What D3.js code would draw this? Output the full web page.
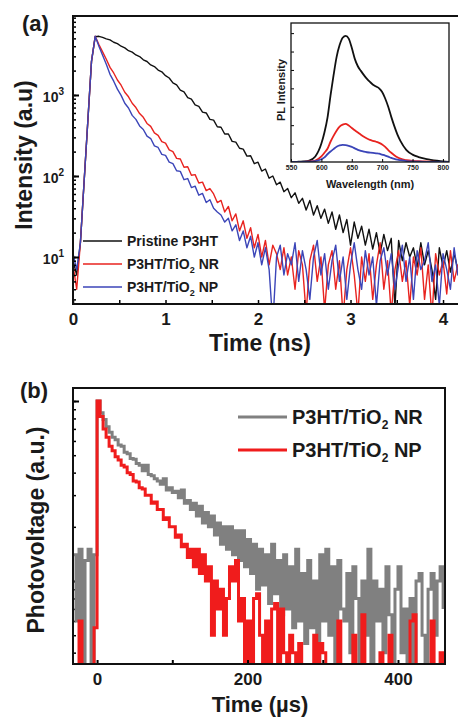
<!DOCTYPE html>
<html>
<head>
<meta charset="utf-8">
<script src="https://cdn.jsdelivr.net/npm/d3@7"></script>
<style>
body { margin: 0; background: #fff; }
text { font-family: "Liberation Sans", Arial, sans-serif; font-weight: bold; fill: #1a1a1a; }
</style>
</head>
<body>
<div id="chart"></div>
<script>
// ---- panel (a): PL decay, time in ns, counts on log axis
const timeA = [
  0,0.04,0.08,0.12,0.16,0.2,0.24,0.28,0.32,0.36,
  0.4,0.44,0.48,0.52,0.56,0.6,0.64,0.68,0.72,0.76,
  0.8,0.84,0.88,0.92,0.96,1.0,1.04,1.08,1.12,1.16,
  1.2,1.24,1.28,1.32,1.36,1.4,1.44,1.48,1.52,1.56,
  1.6,1.64,1.68,1.72,1.76,1.8,1.84,1.88,1.92,1.96,
  2.0,2.04,2.08,2.12,2.16,2.2,2.24,2.28,2.32,2.36,
  2.4,2.44,2.48,2.52,2.56,2.6,2.64,2.68,2.72,2.76,
  2.8,2.84,2.88,2.92,2.96,3.0,3.04,3.08,3.12,3.16,
  3.2,3.24,3.28,3.32,3.36,3.4,3.44,3.48,3.52,3.56,
  3.6,3.64,3.68,3.72,3.76,3.8,3.84,3.88,3.92,3.96,
  4.0,4.04,4.08,4.12,4.16,4.2
];
const pristine = [
  9,6,15,85,470,2600,5250,5300,5130,4930,
  4780,4480,4300,4000,3820,3520,3380,3120,2980,2720,
  2590,2350,2240,2030,1930,1730,1620,1410,1330,1150,
  1090,930,890,755,725,615,600,500,490,405,
  400,330,330,268,262,220,215,176,178,142,
  148,115,122,94,100,78,84,64,70,54,
  62,46,53,38,50,33,43,30,39,26,
  36,22,33,20,29,14,27,17,24,14,
  22,12.5,20,11,19,12,17,2.4,16,9,
  15,10,13,7.5,15,8,12,7,3,13,
  7.5,12,6.5,11,7,12
];
const tio2NR = [
  8,4,15,85,470,2600,5300,4200,3400,2760,
  2190,1870,1530,1320,1080,950,790,700,590,530,
  445,410,340,318,265,255,210,200,165,162,
  128,130,102,104,82,84,66,70,60,47,
  50,36,42,28,34,21,28,17,23,13,
  19,10,16,8,14,11,7,13,6,10,
  4,12,8,2,9,14,5,10,2.2,8,
  12,4,9,1.8,7,13,6,2,10,5,
  11,3,8,15,4,9,2,7,12,5,
  9,2.5,10,6,13,3,8,1.8,11,6,
  9,3.5,12,5,8,3
];
const tio2NP = [
  11,7,15,85,470,2600,5300,4000,3100,2400,
  1800,1480,1180,990,790,690,560,500,415,375,
  310,290,235,225,185,180,148,142,116,114,
  90,93,72,75,58,61,47,51,40,36,
  33,27,30,21,25,16,21,13,18,10,
  15,8,13,7,1.5,10,14,6,11,8,
  15,5,12,7,3,10,16,6,11,4,
  9,14,5,10,3,8,15,7,4,12,
  6,10,2.5,9,13,6,11,4,8,14,
  5,10,3,12,7,9,15,5,8,2.5,
  11,7,4,13,6,10
];
const xTicksA = [0,0.5,1,1.5,2,2.5,3,3.5,4];
const yLabelsA = [10,100,1000];

// ---- inset: PL spectra
const wavelength = [550,560,570,580,590,600,605,610,615,620,625,630,635,640,645,650,655,660,665,670,
  675,680,685,690,695,700,705,710,715,720,725,730,740,750,760,770,780,790,800,810];
const plPristine = [0,0.01,0.03,0.08,0.3,1.0,1.6,2.4,3.6,4.7,5.7,6.35,6.75,6.85,6.7,6.2,5.6,5.2,4.95,4.72,
  4.52,4.35,4.2,4.1,4.0,3.8,3.45,3.0,2.45,1.95,1.5,1.15,0.65,0.4,0.27,0.18,0.12,0.07,0.03,0.01];
const plNR = [0,0.01,0.01,0.03,0.08,0.3,0.5,0.72,1.1,1.42,1.7,1.92,2.03,2.07,1.98,1.85,1.72,1.6,1.48,1.37,
  1.28,1.2,1.15,1.1,1.04,0.95,0.82,0.65,0.5,0.37,0.26,0.18,0.1,0.06,0.04,0.03,0.02,0.01,0.01,0];
const plNP = [0,0,0.01,0.02,0.05,0.15,0.25,0.42,0.57,0.7,0.83,0.9,0.93,0.92,0.88,0.82,0.74,0.66,0.6,0.56,
  0.53,0.51,0.49,0.47,0.45,0.4,0.35,0.29,0.22,0.17,0.13,0.1,0.05,0.03,0.02,0.01,0.01,0,0,0];
const insetTicks = [550,600,650,700,750,800];

// ---- panel (b): transient photovoltage, time in us
const timeB = [
  -32,-28,-24,-20,-16,-12,-8,-4,0,4,
  8,12,16,20,24,28,32,36,40,44,
  48,52,56,60,64,68,72,76,80,84,
  88,92,96,100,104,108,112,116,120,124,
  128,132,136,140,144,148,152,156,160,164,
  168,172,176,180,184,188,192,196,200,204,
  208,212,216,220,224,228,232,236,240,244,
  248,252,256,260,264,268,272,276,280,284,
  288,292,296,300,304,308,312,316,320,324,
  328,332,336,340,344,348,352,356,360,364,
  368,372,376,380,384,388,392,396,400,404,
  408,412,416,420,424,428,432,436,440,444,
  448,452,456,460
];
const pvNR = [
  0.14,0.06,0.15,0.035,0.13,0.15,0.03,0.14,1.0,0.86,
  0.79,0.72,0.67,0.63,0.61,0.57,0.56,0.52,0.51,0.48,
  0.475,0.45,0.44,0.41,0.44,0.39,0.385,0.37,0.36,0.345,
  0.37,0.32,0.33,0.31,0.315,0.29,0.32,0.27,0.28,0.25,
  0.27,0.23,0.26,0.21,0.24,0.2,0.23,0.18,0.21,0.16,
  0.2,0.15,0.2,0.14,0.19,0.13,0.19,0.12,0.17,0.11,
  0.16,0.09,0.15,0.095,0.14,0.075,0.16,0.085,0.13,0.065,
  0.14,0.07,0.12,0.055,0.15,0.06,0.11,0.045,0.13,0.055,
  0.1,0.03,0.14,0.06,0.15,0.05,0.12,0.03,0.13,0.07,
  0.06,0.11,0.04,0.12,0.08,0.035,0.1,0.05,0.15,0.03,
  0.1,0.06,0.09,0.04,0.12,0.065,0.03,0.09,0.12,0.04,
  0.07,0.03,0.08,0.035,0.1,0.11,0.05,0.02,0.09,0.11,
  0.05,0.1,0.12,0.07
];
const pvNP = [
  0.02,0.02,0.06,0.02,0.02,0.025,0.02,0.055,1.0,0.82,
  0.7,0.63,0.56,0.53,0.49,0.47,0.44,0.43,0.4,0.39,
  0.36,0.355,0.33,0.325,0.3,0.3,0.27,0.275,0.25,0.25,
  0.22,0.225,0.2,0.2,0.175,0.18,0.155,0.16,0.135,0.15,
  0.12,0.15,0.11,0.14,0.1,0.12,0.05,0.1,0.07,0.09,
  0.05,0.08,0.12,0.1,0.13,0.06,0.08,0.03,0.06,0.025,
  0.08,0.085,0.05,0.03,0.06,0.02,0.07,0.075,0.03,0.07,
  0.04,0.02,0.05,0.04,0.02,0.045,0.02,0.02,0.025,0.02,
  0.05,0.02,0.045,0.04,0.02,0.02,0.02,0.02,0.06,0.02,
  0.02,0.02,0.02,0.05,0.02,0.02,0.065,0.02,0.02,0.02,
  0.02,0.02,0.04,0.02,0.02,0.05,0.02,0.02,0.02,0.02,
  0.02,0.02,0.06,0.065,0.02,0.02,0.02,0.02,0.02,0.06,
  0.02,0.02,0.04,0.02
];
const xTicksB = [0,100,200,300,400];
const xLabelsB = [0,200,400];

const width = 458;
const height = 719;

const svg = d3.select("#chart")
    .append("svg")
    .attr("width", width)
    .attr("height", height);

const defs = svg.append("defs");
function clip(id, x0, y0, x1, y1) {
    defs.append("clipPath").attr("id", id)
        .append("rect").attr("x", x0).attr("y", y0).attr("width", x1 - x0).attr("height", y1 - y0);
}

// ================= panel (a)
const A = { left: 73, top: 16, right: 462, bottom: 304 };
const xA = d3.scaleLinear().domain([0, 4.205]).range([A.left, A.right]);
const yA = d3.scaleLog().domain([2.63, 9440]).range([A.bottom, A.top]);
clip("clipA", A.left, A.top, A.right, A.bottom);

const gA = svg.append("g").attr("clip-path", "url(#clipA)");
[[pristine, "#111"], [tio2NR, "#e8231f"], [tio2NP, "#3b45b8"]].forEach(([vals, col]) => {
    gA.append("path")
        .attr("fill", "none")
        .attr("stroke", col)
        .attr("stroke-width", 1.4)
        .attr("stroke-linejoin", "round")
        .attr("d", d3.line().x((d, i) => xA(timeA[i])).y(d => yA(d))(vals));
});

// left log ticks (inward)
svg.append("g")
    .attr("transform", `translate(${A.left},0)`)
    .call(d3.axisLeft(yA).tickValues(yA.ticks()).tickSize(-3).tickFormat(""))
    .call(g => g.select(".domain").remove())
    .call(g => g.selectAll(".tick line").attr("stroke-width", 1.5));
svg.append("g")
    .attr("transform", `translate(${A.left},0)`)
    .call(d3.axisLeft(yA).tickValues(yLabelsA).tickSize(-6).tickFormat(""))
    .call(g => g.select(".domain").remove())
    .call(g => g.selectAll(".tick line").attr("stroke-width", 2));

yLabelsA.forEach(v => {
    const t = svg.append("text")
        .attr("x", 64).attr("y", yA(v) + 7)
        .attr("text-anchor", "end")
        .attr("font-size", 14);
    t.append("tspan").text("10");
    t.append("tspan").attr("font-size", 10).attr("dy", -7).text(Math.round(Math.log10(v)));
});

// bottom ticks
svg.append("g")
    .attr("transform", `translate(0,${A.bottom})`)
    .call(d3.axisBottom(xA).tickValues(xTicksA).tickSize(-4).tickPadding(9)
        .tickFormat(d => Number.isInteger(d) ? d : ""))
    .call(g => g.select(".domain").remove())
    .call(g => g.selectAll(".tick line").attr("stroke-width", 1.5))
    .call(g => g.selectAll(".tick text").attr("font-size", 17)
        .attr("font-family", "Liberation Sans, Arial, sans-serif").attr("font-weight", "bold").attr("fill", "#1a1a1a"));

svg.append("rect")
    .attr("x", A.left).attr("y", A.top)
    .attr("width", A.right - A.left).attr("height", A.bottom - A.top)
    .attr("fill", "none").attr("stroke", "#111").attr("stroke-width", 2);

// legend (a)
const legA = [["Pristine P3HT", null, "#111"], ["P3HT/TiO", " NR", "#e8231f"], ["P3HT/TiO", " NP", "#3b45b8"]];
legA.forEach(([a, b, col], i) => {
    const y = 241 + i * 23;
    svg.append("line").attr("x1", 83).attr("x2", 122).attr("y1", y).attr("y2", y)
        .attr("stroke", col).attr("stroke-width", 1.5);
    const t = svg.append("text").attr("x", 127).attr("y", y + 5).attr("font-size", 14);
    t.append("tspan").text(a);
    if (b) {
        t.append("tspan").attr("font-size", 9).attr("dy", 4).text("2");
        t.append("tspan").attr("dy", -4).text(b);
    }
});

svg.append("text").attr("x", 22).attr("y", 31).attr("font-size", 22).text("(a)");
svg.append("text").attr("x", 260).attr("y", 351).attr("text-anchor", "middle")
    .attr("font-size", 23).text("Time (ns)");
svg.append("text").attr("transform", "translate(32,155) rotate(-90)")
    .attr("text-anchor", "middle").attr("font-size", 23).text("Intensity (a.u)");

// ================= inset
const I = { left: 291, top: 23, right: 449, bottom: 162 };
const xI = d3.scaleLinear().domain([550, 810]).range([I.left, I.right]);
const yI = d3.scaleLinear().domain([0, 7.55]).range([I.bottom, I.top]);
clip("clipI", I.left, I.top, I.right, I.bottom);

svg.append("rect")
    .attr("x", I.left).attr("y", I.top)
    .attr("width", I.right - I.left).attr("height", I.bottom - I.top)
    .attr("fill", "#fff");

const gI = svg.append("g").attr("clip-path", "url(#clipI)");
[[plPristine, "#111"], [plNR, "#e8231f"], [plNP, "#3b45b8"]].forEach(([vals, col]) => {
    gI.append("path")
        .attr("fill", "none")
        .attr("stroke", col)
        .attr("stroke-width", 1.8)
        .attr("d", d3.line().curve(d3.curveMonotoneX)
            .x((d, i) => xI(wavelength[i])).y(d => yI(d))(vals));
});

svg.append("g")
    .attr("transform", `translate(0,${I.bottom})`)
    .call(d3.axisBottom(xI).tickValues(insetTicks).tickSize(-3).tickPadding(3))
    .call(g => g.select(".domain").remove())
    .call(g => g.selectAll(".tick text").attr("font-size", 7)
        .attr("font-family", "Liberation Sans, Arial, sans-serif").attr("font-weight", "bold").attr("fill", "#555"));
svg.append("g")
    .attr("transform", `translate(${I.left},0)`)
    .call(d3.axisLeft(yI).tickValues([1, 2, 3, 4, 5, 6, 7]).tickSize(-3).tickFormat(""))
    .call(g => g.select(".domain").remove());

svg.append("rect")
    .attr("x", I.left).attr("y", I.top)
    .attr("width", I.right - I.left).attr("height", I.bottom - I.top)
    .attr("fill", "none").attr("stroke", "#111").attr("stroke-width", 1.3);

svg.append("text").attr("x", 370).attr("y", 188).attr("text-anchor", "middle")
    .attr("font-size", 11).attr("fill", "#333").text("Wavelength (nm)");
svg.append("text").attr("transform", "translate(285,90) rotate(-90)")
    .attr("text-anchor", "middle").attr("font-size", 11).attr("fill", "#333").text("PL Intensity");

// ================= panel (b)
const B = { left: 73, top: 388, right: 445, bottom: 664 };
const xB = d3.scaleLinear().domain([-32, 462.5]).range([B.left, B.right]);
const yB = d3.scaleLog().domain([0.0346, 1.181]).range([B.bottom, B.top]);
clip("clipB", B.left, B.top, B.right, B.bottom);

// left log ticks (behind data)
svg.append("g")
    .attr("transform", `translate(${B.left},0)`)
    .call(d3.axisLeft(yB).tickValues(yB.ticks()).tickSize(-3).tickFormat(""))
    .call(g => g.select(".domain").remove())
    .call(g => g.selectAll(".tick line").attr("stroke-width", 1.5));
svg.append("g")
    .attr("transform", `translate(${B.left},0)`)
    .call(d3.axisLeft(yB).tickValues([0.1, 1]).tickSize(-6).tickFormat(""))
    .call(g => g.select(".domain").remove())
    .call(g => g.selectAll(".tick line").attr("stroke-width", 2));

const gB = svg.append("g").attr("clip-path", "url(#clipB)");
[[pvNR, "#808080"], [pvNP, "#f01c1c"]].forEach(([vals, col]) => {
    gB.append("path")
        .attr("fill", "none")
        .attr("stroke", col)
        .attr("stroke-width", 3)
        .attr("d", d3.line().curve(d3.curveStepAfter)
            .x((d, i) => xB(timeB[i])).y(d => yB(d))(vals));
});

svg.append("g")
    .attr("transform", `translate(0,${B.bottom})`)
    .call(d3.axisBottom(xB).tickValues(xTicksB).tickSize(-4).tickPadding(9)
        .tickFormat(d => xLabelsB.includes(d) ? d : ""))
    .call(g => g.select(".domain").remove())
    .call(g => g.selectAll(".tick line").attr("stroke-width", 2))
    .call(g => g.selectAll(".tick text").attr("font-size", 17)
        .attr("font-family", "Liberation Sans, Arial, sans-serif").attr("font-weight", "bold").attr("fill", "#1a1a1a"));

svg.append("rect")
    .attr("x", B.left).attr("y", B.top)
    .attr("width", B.right - B.left).attr("height", B.bottom - B.top)
    .attr("fill", "none").attr("stroke", "#111").attr("stroke-width", 2);

// legend (b)
[[" NR", "#808080"], [" NP", "#f01c1c"]].forEach(([b, col], i) => {
    const y = 417 + i * 33;
    svg.append("line").attr("x1", 238).attr("x2", 287).attr("y1", y).attr("y2", y)
        .attr("stroke", col).attr("stroke-width", 3);
    const t = svg.append("text").attr("x", 292).attr("y", y + 7).attr("font-size", 20);
    t.append("tspan").text("P3HT/TiO");
    t.append("tspan").attr("font-size", 12).attr("dy", 5).text("2");
    t.append("tspan").attr("dy", -5).text(b);
});

svg.append("text").attr("x", 20).attr("y", 398).attr("font-size", 22).text("(b)");
svg.append("text").attr("x", 260).attr("y", 712).attr("text-anchor", "middle")
    .attr("font-size", 22).text("Time (\u00b5s)");
svg.append("text").attr("transform", "translate(44,530) rotate(-90)")
    .attr("text-anchor", "middle").attr("font-size", 23).text("Photovoltage (a.u.)");
</script>
</body>
</html>
